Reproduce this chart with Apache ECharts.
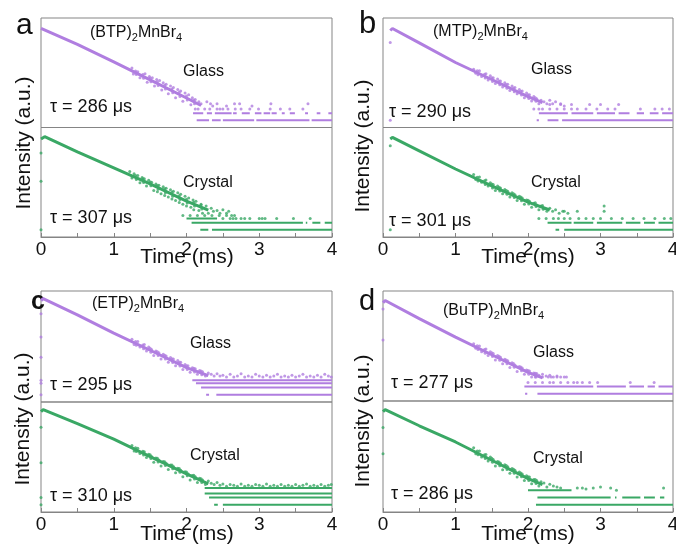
<!DOCTYPE html>
<html><head><meta charset="utf-8">
<script src="https://cdn.jsdelivr.net/npm/echarts/dist/echarts.min.js"></script>
<style>html,body{margin:0;padding:0;background:#fff}#c{width:676px;height:552px}</style>
</head><body><div id="c"></div>
<script>
// ---------- data (time in ms, intensity in counts, log scale) ----------
const timeTicks = [0, 1, 2, 3, 4];
const compounds = ['(BTP)', '(MTP)', '(ETP)', '(BuTP)'];
const lifetimesGlass = [286, 290, 295, 277];
const lifetimesCrystal = [307, 301, 310, 286];
const panelLetters = ['a', 'b', 'c', 'd'];

// rows: [level, tStart, tEnd] (photon-count floor rows)
const aGlassCurve = [[0,7250],[0.5,1550],[1,285],[1.5,50],[2,8.7],[2.2,4.2]];
const aGlassDots = [[1.25,160],[1.27,88],[1.33,111],[1.36,62],[1.43,90],[1.46,40],[1.49,70],[1.53,61],[1.56,28],[1.59,52],[1.63,47],[1.66,19],[1.68,38],[1.72,33],[1.75,13],[1.78,28],[1.82,24],[1.85,9],[1.88,20],[1.92,17],[1.95,6.4],[1.98,14],[2.03,12],[2.06,4.5],[2.08,9],[2.12,7.5],[2.17,6],[2.2,5],[2.28,6],[2.33,5],[2.36,4],
 [1.3,118],[1.31,84],[1.4,84],[1.41,59],[1.5,60],[1.51,42],[1.6,42],[1.61,29],[1.7,30],[1.71,21],[1.8,21],[1.81,14.5],[1.9,15],[1.91,10],[2.0,10.5],[2.01,7.2],[2.1,7.2],[2.11,5],
 [2.12,3],[2.16,3],[2.25,3],[2.32,3],[2.42,3],[2.46,3],[2.5,3],[2.57,3],[2.67,3],[2.75,3],[2.87,3],[2.99,3],[3.15,3],[3.29,3],[3.42,3],[3.6,3],
 [2.42,5],[2.66,5],[2.73,5],[3.16,5],[3.67,5],[2.55,4],[2.9,4]];
const aGlassRows = [[1,2.14,2.31],[1,2.35,2.47],[1,2.5,2.93],[1,2.96,3.69],[1,3.72,4],[2,2.09,2.23],[2,2.28,2.35],[2,2.39,2.62],[2,2.64,2.69],[2,2.76,2.87],[2,2.94,3.03],[2,3.06,3.15],[2,3.17,3.24],[2,3.31,3.35],[2,3.42,3.49],[2,3.63,3.67],[2,3.79,3.84],[2,3.95,4]];

const aCrystalCurve = [[0,6580],[0.05,8200],[0.5,1880],[1,400],[1.5,85],[2,16.2],[2.3,6.8]];
const aCrystalDots = [[0,1700],[0,110],[0,1],
 [1.22,280],[1.25,150],[1.28,230],[1.33,190],[1.36,95],[1.39,160],[1.42,140],[1.45,70],[1.48,120],[1.52,100],[1.55,45],[1.58,85],[1.6,40],[1.62,75],[1.65,33],[1.68,64],[1.7,28],[1.72,56],[1.75,24],[1.78,48],[1.8,20],[1.82,42],[1.85,17],[1.88,36],[1.9,14],[1.92,31],[1.95,12],[1.98,26],[2.0,10],[2.03,22],[2.06,9],[2.09,18],[2.1,7],[2.13,16],[2.17,6.5],[2.2,12],[2.22,5],[2.27,10],[2.3,5],[2.34,8],[2.37,6],[2.42,6.5],[2.46,5],[2.5,7],[2.55,5],[2.58,6],
 [1.3,190],[1.31,132],[1.4,140],[1.41,97],[1.5,102],[1.51,71],[1.6,73],[1.61,51],[1.7,53],[1.71,36],[1.8,38],[1.81,26],[1.9,27],[1.91,19],[2.0,19.5],[2.01,13.5],[2.1,14.5],[2.11,10],[2.2,11],[2.21,7.6],
 [1.95,4],[2.05,4],[2.15,4],[2.25,4],[2.35,4],[2.45,4],[2.55,4],[2.62,4],[2.66,4],
 [2.5,3],[2.6,3],[2.64,3],[2.68,3],[2.75,3],[2.8,3],[2.87,3],[3.0,3],[3.04,3],[3.08,3],[3.24,3],[3.47,3],[3.7,3]];
const aCrystalRows = [[1,2.19,2.3],[1,2.35,4],[2,2.07,3.6],[2,3.64,3.66],[2,3.73,3.84],[2,3.9,4],[3,2.0,2.42]];

const bGlassCurve = [[0.1,5970],[0.13,7250],[0.5,1800],[1,270],[1.5,52],[2,10],[2.2,5.6]];
const bGlassDots = [[0.1,1850],[0.1,1],
 [1.25,140],[1.28,95],[1.33,120],[1.36,70],[1.42,90],[1.45,50],[1.48,75],[1.52,62],[1.55,35],[1.58,55],[1.62,45],[1.65,25],[1.68,38],[1.72,33],[1.75,18],[1.78,28],[1.82,24],[1.85,13],[1.88,20],[1.92,17],[1.95,9],[1.98,14],[2.02,12],[2.05,6.5],[2.08,10],[2.12,8],[2.15,5],[2.18,7],[2.22,6],[2.26,5],[2.3,7],[2.34,5],[2.38,6],[2.45,5],[2.5,4],
 [1.3,120],[1.31,83],[1.4,86],[1.41,60],[1.5,62],[1.51,43],[1.6,45],[1.61,31],[1.7,32],[1.71,22.4],[1.8,23],[1.81,16],[1.9,16.7],[1.91,11.6],[2.0,12],[2.01,8.3],[2.1,9],[2.11,6.3],
 [2.08,3],[2.15,3],[2.2,3],[2.3,3],[2.4,3],[2.5,3],[2.6,3],[2.68,3],[2.8,3],[2.95,3],[3.1,3],[3.2,3],[3.55,3],[3.75,3],[3.85,3],[3.95,3],
 [2.3,4.6],[2.45,4.6],[2.6,4.6],[2.85,4.6],[3.0,4.6],[3.25,4.6]];
const bGlassRows = [[1,2.12,2.15],[1,2.27,2.42],[1,2.47,4],[2,2.15,2.55],[2,2.6,2.9],[2,2.95,3.2],[2,3.25,3.4],[2,3.5,3.6],[2,3.68,3.8],[2,3.85,4]];

const bCrystalCurve = [[0.1,6580],[0.13,7700],[0.5,2100],[1,361],[1.5,70],[2,14.7],[2.3,6.8]];
const bCrystalDots = [[0.1,3450],[0.1,1],
 [1.25,210],[1.28,130],[1.33,165],[1.36,100],[1.42,125],[1.45,70],[1.48,95],[1.52,80],[1.55,45],[1.58,70],[1.62,58],[1.65,33],[1.68,50],[1.72,42],[1.75,24],[1.78,36],[1.82,30],[1.85,17],[1.88,26],[1.92,22],[1.95,12],[1.98,18],[2.02,16],[2.05,9],[2.08,13],[2.12,11],[2.15,7],[2.18,10],[2.22,8],[2.26,6],[2.3,8],[2.34,6],[2.38,7],[2.43,5],[2.48,6],[2.55,5],
 [1.3,162],[1.31,112],[1.4,116],[1.41,81],[1.5,84],[1.51,58],[1.6,61],[1.61,42.5],[1.7,45],[1.71,31],[1.8,33],[1.81,23],[1.9,24],[1.91,16.7],[2.0,17.6],[2.01,12.2],[2.1,13.7],[2.11,9.5],[2.2,10.5],[2.21,7.3],
 [2.5,6],[2.68,6],[3.05,6],[3.05,10],
 [2.15,3],[2.25,3],[2.35,3],[2.42,3],[2.5,3],[2.58,3],[2.7,3],[2.8,3],[2.9,3],[3.0,3],[3.15,3],[3.3,3],[3.45,3],[3.6,3],[3.75,3],[3.88,3],[3.97,3]];
const bCrystalRows = [[1,2.38,2.43],[1,2.5,4],[2,2.27,2.6],[2,2.63,2.9],[2,2.95,3.3],[2,3.35,3.55],[2,3.6,3.75],[2,3.8,4]];

const cGlassCurve = [[0,7980],[0.03,9690],[0.5,2060],[1,361],[1.5,70],[2,13.4],[2.3,6.2]];
const cGlassDots = [[0,2300],[0,245],[0,36],[0,4],[0,3],[0,1],
 [1.25,200],[1.28,120],[1.33,160],[1.36,95],[1.42,120],[1.45,65],[1.48,95],[1.52,75],[1.55,42],[1.58,65],[1.62,55],[1.65,30],[1.68,48],[1.72,40],[1.75,22],[1.78,35],[1.82,30],[1.85,16],[1.88,26],[1.92,22],[1.95,11],[1.98,18],[2.02,16],[2.05,8.5],[2.08,13],[2.12,12],[2.15,7],[2.18,10],[2.22,9],[2.26,6],[2.3,8],[2.34,7],[2.38,6],[2.42,7.5],[2.46,6],
 [1.3,162],[1.31,112],[1.4,116],[1.41,81],[1.5,84],[1.51,58],[1.6,60],[1.61,42],[1.7,43],[1.71,30],[1.8,31],[1.81,21.7],[1.9,22.4],[1.91,15.6],[2.0,16],[2.01,11.2],[2.1,12.5],[2.11,8.7],[2.2,9.6],[2.21,6.7],
 [2.5,6.5],[2.55,5.5],[2.6,7],[2.65,5.5],[2.7,6],[2.75,7.5],[2.8,5.5],[2.85,6],[2.9,5.5],[2.95,7],[3.0,6],[3.05,5.5],[3.1,6.5],[3.15,5.5],[3.2,6],[3.25,7],[3.3,5.5],[3.35,6],[3.4,5.5],[3.45,6.5],[3.5,5.5],[3.55,6],[3.6,7],[3.65,5.5],[3.7,6],[3.75,5.5],[3.8,6.5],[3.85,5.5],[3.9,7],[3.95,6],[3.99,5.5]];
const cGlassRows = [[1,2.27,2.31],[1,2.41,4],[2,2.2,4],[3,2.13,4],[4,2.08,4]];

const cCrystalCurve = [[0,7980],[0.03,9690],[0.5,2500],[1,560],[1.5,103],[2,19.7],[2.3,7.5]];
const cCrystalDots = [[0,1750],[0,58],[0,2],[0,1],
 [1.25,300],[1.28,180],[1.33,230],[1.36,140],[1.42,165],[1.45,95],[1.48,130],[1.52,105],[1.55,60],[1.58,90],[1.62,75],[1.65,42],[1.68,65],[1.72,55],[1.75,30],[1.78,46],[1.82,40],[1.85,22],[1.88,34],[1.92,28],[1.95,15],[1.98,24],[2.02,20],[2.05,11],[2.08,17],[2.12,15],[2.15,8.5],[2.18,13],[2.22,11],[2.26,7],[2.3,10],[2.34,8],[2.38,7],[2.42,8.5],[2.46,6.5],[2.5,7.5],
 [1.3,244],[1.31,169],[1.4,174],[1.41,120],[1.5,124],[1.51,86],[1.6,89],[1.61,62],[1.7,64],[1.71,44],[1.8,46],[1.81,32],[1.9,33],[1.91,23],[2.0,23.6],[2.01,16.4],[2.1,17.2],[2.11,12],[2.2,12.4],[2.21,8.6],
 [2.55,6],[2.6,7],[2.65,6.5],[2.7,6],[2.75,7.5],[2.8,6],[2.85,6.5],[2.9,6],[2.95,7],[3.0,6.5],[3.05,6],[3.1,7.5],[3.15,6],[3.2,6.5],[3.25,6],[3.3,7],[3.35,6],[3.4,6.5],[3.45,6],[3.5,7],[3.55,6],[3.6,6.5],[3.65,7.5],[3.7,6],[3.75,6.5],[3.8,6],[3.85,7],[3.9,6],[3.95,6.5],[3.99,7]];
const cCrystalRows = [[1,2.38,2.43],[1,2.5,4],[2,2.31,4],[3,2.25,4],[5,2.25,4]];

const dGlassCurve = [[0,6580],[0.03,7980],[0.5,1400],[1,235],[1.5,43],[2,7.9],[2.2,4.6]];
const dGlassDots = [[0,3550],[0,180],
 [1.25,125],[1.28,80],[1.33,100],[1.36,58],[1.42,75],[1.45,40],[1.48,58],[1.52,48],[1.55,26],[1.58,40],[1.62,34],[1.65,18],[1.68,28],[1.72,24],[1.75,12.5],[1.78,20],[1.82,16],[1.85,8.5],[1.88,14],[1.92,12],[1.95,6.5],[1.98,10],[2.02,9],[2.05,5],[2.08,7.5],[2.12,7],[2.15,6],[2.2,6.5],[2.25,5.5],[2.3,6],[2.35,5],[2.4,5.5],
 [1.3,102],[1.31,71],[1.4,72],[1.41,50],[1.5,52],[1.51,36],[1.6,37],[1.61,25.5],[1.7,26],[1.71,18],[1.8,18.7],[1.81,13],[1.9,13.3],[1.91,9.3],[2.0,9.5],[2.01,6.6],[2.1,7.2],[2.11,5],
 [2.0,3],[2.1,3],[2.2,3],[2.3,3],[2.35,3],[2.45,3],[2.55,3],[2.63,3],[2.68,3],[2.75,3],[2.85,3],[2.96,3],[3.41,3],[3.74,3],
 [2.1,5],[2.2,5],[2.28,5],[2.32,5],[2.4,5],[2.45,5],[2.5,5],[2.53,5]];
const dGlassRows = [[1,1.96,1.99],[1,2.13,4],[2,1.95,2.9],[2,2.95,3.35],[2,3.4,3.6],[2,3.65,3.75],[2,3.8,4]];

const dCrystalCurve = [[0,7250],[0.03,8800],[0.5,1880],[1,400],[1.5,70],[2,12.2],[2.2,6.8]];
const dCrystalDots = [[0,1600],[0,130],
 [1.25,230],[1.28,130],[1.33,170],[1.36,95],[1.42,120],[1.45,65],[1.48,95],[1.52,75],[1.55,40],[1.58,62],[1.62,52],[1.65,28],[1.68,45],[1.72,38],[1.75,20],[1.78,32],[1.82,27],[1.85,14],[1.88,23],[1.92,19],[1.95,10],[1.98,16],[2.02,14],[2.05,7.5],[2.08,11],[2.12,10],[2.15,6],[2.18,9],[2.22,8],[2.26,5.5],[2.3,7],[2.35,6],[2.4,5.5],[2.45,5],
 [1.3,168],[1.31,117],[1.4,119],[1.41,82],[1.5,84],[1.51,58],[1.6,59],[1.61,41],[1.7,42],[1.71,29],[1.8,29.4],[1.81,20.4],[1.9,20.8],[1.91,14.4],[2.0,14.6],[2.01,10.2],[2.1,11],[2.11,7.6],
 [2.68,5],[2.75,5],[2.8,4.5],[2.9,5],[3.0,5.5],[3.14,5],[3.22,4],[3.87,5]];
const dCrystalRows = [[1,2.11,4],[2,2.13,3.14],[2,3.2,3.22],[2,3.3,3.55],[2,3.6,3.75],[2,3.82,3.88],[4,2.0,2.6]];

// ---------- layout / style ----------
const FONT = '"Liberation Sans", Arial, sans-serif';
const PURPLE = '#b07ee0', GREEN = '#3aa865', AXIS = '#858585', TXT = '#111';
const layout = [
  {left: 41, width: 291, top: 18, h1: 109.5, h2: 109.5},
  {left: 383, width: 290, top: 18, h1: 109.5, h2: 109.5},
  {left: 41, width: 291, top: 291, h1: 111, h2: 110},
  {left: 383, width: 290, top: 291, h1: 110, h2: 111}
];
const sets = [
  [[aGlassCurve, aGlassDots, aGlassRows], [aCrystalCurve, aCrystalDots, aCrystalRows]],
  [[bGlassCurve, bGlassDots, bGlassRows], [bCrystalCurve, bCrystalDots, bCrystalRows]],
  [[cGlassCurve, cGlassDots, cGlassRows], [cCrystalCurve, cCrystalDots, cCrystalRows]],
  [[dGlassCurve, dGlassDots, dGlassRows], [dCrystalCurve, dCrystalDots, dCrystalRows]]
];

function rowsToLine(rows) {
  const d = [];
  rows.forEach(r => { d.push([r[1], r[0]]); d.push([r[2], r[0]]); d.push([r[2], '-']); });
  return d;
}

const grids = [], xAxes = [], yAxes = [], series = [];
layout.forEach((L, p) => {
  [0, 1].forEach(k => {
    const gi = grids.length;
    grids.push({
      left: L.left, width: L.width,
      top: k === 0 ? L.top : L.top + L.h1,
      height: k === 0 ? L.h1 : L.h2,
      containLabel: false, outerBoundsMode: 'none',
      show: true, borderColor: AXIS, borderWidth: 1
    });
    const bottom = k === 1;
    xAxes.push({
      type: 'value', gridIndex: gi, min: 0, max: 4, interval: 0.5,
      axisLine: {show: bottom, lineStyle: {color: AXIS}},
      axisTick: {show: bottom, inside: true, length: 4, lineStyle: {color: AXIS}},
      axisLabel: {show: bottom, margin: 3, fontSize: 19, fontFamily: FONT, color: TXT, hideOverlap: false,
        formatter: v => timeTicks.indexOf(v) >= 0 ? String(v) : ''},
      splitLine: {show: false}
    });
    yAxes.push({type: 'log', gridIndex: gi, min: 0.5, max: 20000, logBase: 10, show: false});
    const color = k === 0 ? PURPLE : GREEN;
    const [curve, dots, rows] = sets[p][k];
    series.push({type: 'line', xAxisIndex: gi, yAxisIndex: gi, data: rowsToLine(rows),
      symbol: 'none', lineStyle: {color, width: 2}, connectNulls: false, silent: true, animation: false});
    series.push({type: 'line', xAxisIndex: gi, yAxisIndex: gi, data: curve,
      symbol: 'none', lineStyle: {color, width: 3}, silent: true, animation: false});
    series.push({type: 'scatter', xAxisIndex: gi, yAxisIndex: gi, data: dots,
      symbolSize: 3, itemStyle: {color}, silent: true, animation: false});
  });
});

// ---------- texts ----------
const graphic = [];
function txt(x, y, text, size, opts) {
  graphic.push({type: 'text', x, y, silent: true,
    style: Object.assign({text, fontSize: size, fontFamily: FONT, fill: TXT, align: 'left', verticalAlign: 'middle'}, opts || {})});
}
function richTxt(x, y, str) {
  graphic.push({type: 'text', x, y, silent: true, style: {
    text: str, align: 'left', verticalAlign: 'middle', fontFamily: FONT, fill: TXT,
    rich: {n: {fontSize: 16, fontFamily: FONT, fill: TXT}, s: {fontSize: 11, fontFamily: FONT, fill: TXT, padding: [9, 0, 0, 0]}}
  }});
}
const letterPos = [[16, 26, 30, 'normal'], [359, 24, 31, 'normal'], [31, 302, 25, 'bold'], [359, 302, 29, 'normal']];
const compPos = [[90, 33], [433, 32], [92, 304], [443, 311]];
const glassPos = [[183, 72], [531, 70], [190, 344], [533, 353]];
const tauGPos = [[50, 107], [389, 112], [50, 385], [391, 383]];
const crystPos = [[183, 183], [531, 183], [190, 456], [533, 459]];
const tauCPos = [[50, 218], [389, 221], [50, 496], [391, 494]];
const intensPos = [[24, 143], [363, 146], [23, 419], [363, 421]];
const timePos = [[187, 257], [528, 257], [187, 534], [528, 534]];
for (let p = 0; p < 4; p++) {
  txt(letterPos[p][0], letterPos[p][1], panelLetters[p], letterPos[p][2], {fontWeight: letterPos[p][3]});
  richTxt(compPos[p][0], compPos[p][1], '{n|' + compounds[p] + '}{s|2}{n|MnBr}{s|4}');
  txt(glassPos[p][0], glassPos[p][1], 'Glass', 16);
  txt(crystPos[p][0], crystPos[p][1], 'Crystal', 16);
  txt(tauGPos[p][0], tauGPos[p][1], 'τ = ' + lifetimesGlass[p] + ' μs', 18);
  txt(tauCPos[p][0], tauCPos[p][1], 'τ = ' + lifetimesCrystal[p] + ' μs', 18);
  graphic.push({type: 'text', x: intensPos[p][0], y: intensPos[p][1], rotation: Math.PI / 2, silent: true,
    style: {text: 'Intensity (a.u.)', fontSize: 21, fontFamily: FONT, fill: TXT, align: 'center', verticalAlign: 'middle'}});
  txt(timePos[p][0], timePos[p][1], 'Time (ms)', 21, {align: 'center'});
}

const chart = echarts.init(document.getElementById('c'), null, {renderer: 'canvas'});
chart.setOption({
  backgroundColor: '#fff', animation: false,
  grid: grids, xAxis: xAxes, yAxis: yAxes, series, graphic
});
</script></body></html>
